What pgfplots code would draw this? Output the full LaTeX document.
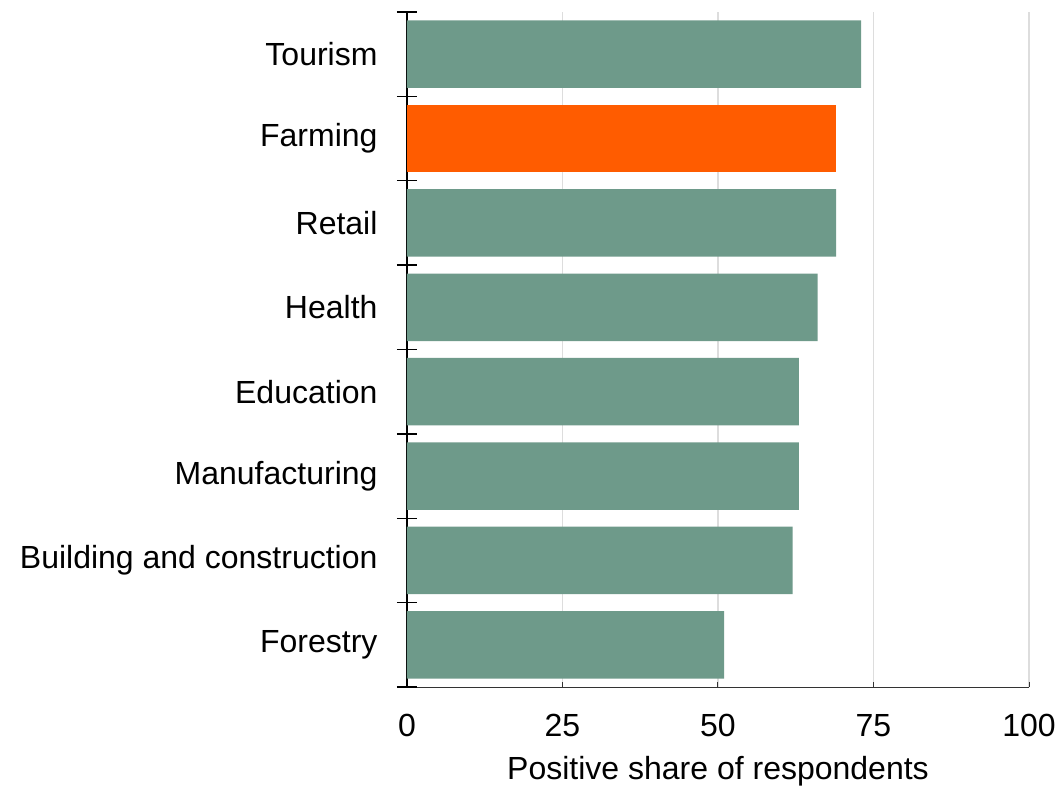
\documentclass[border=0pt]{standalone}
\usepackage{pgfplots}
\pgfplotsset{compat=1.18}
\usepackage{fontspec}
\setmainfont{Liberation Sans}
\definecolor{bargreen}{RGB}{110,154,138}
\definecolor{barorange}{RGB}{255,92,0}
\definecolor{gridgray}{RGB}{221,221,221}
\definecolor{axisgray}{RGB}{51,51,51}
\begin{document}
\begin{tikzpicture}
\begin{axis}[
  at={(0,0)}, anchor=south west,
  scale only axis, width=622bp, height=675bp,
  xmin=0, xmax=100, ymin=-0.5, ymax=7.5,
  xbar, bar width=0.8, bar shift=0,
  axis x line*=bottom, axis y line*=left,
  x axis line style={draw=axisgray, line width=1bp},
  y axis line style={draw=black, line width=1.3bp},
  xtick={0,25,50,75,100},
  xtick style={draw=axisgray, line width=1bp},
  tick align=inside, major tick length=5bp,
  ytick={0,...,7},
  yticklabels={Forestry, Building and construction, Manufacturing, Education, Health, Retail, Farming, Tourism},
  ytick style={draw=none},
  extra y ticks={-0.5,0.5,1.5,2.5,3.5,4.5,5.5,6.5,7.5},
  extra y tick labels={},
  extra y tick style={ytick style={draw=black, line width=1.3bp}, tick align=center, major tick length=20bp, ymajorgrids=false},
  xmajorgrids, grid style={gridgray, line width=1.5bp},
  /pgf/number format/assume math mode=true,
  tick label style={font=\fontsize{32bp}{38bp}\selectfont},
  label style={font=\fontsize{32bp}{38bp}\selectfont},
  yticklabel style={xshift=-26bp},
  xticklabel style={yshift=-24bp},
  xlabel={Positive share of respondents},
  xlabel style={yshift=-12bp},
]
\addplot[fill=bargreen, draw=none] coordinates {(51,0) (62,1) (63,2) (63,3) (66,4) (69,5) (73,7)};
\addplot[fill=barorange, draw=none] coordinates {(69,6)};
\end{axis}
\pgfresetboundingbox
\useasboundingbox (-407bp,-103bp) rectangle (654bp,687bp);
\end{tikzpicture}
\end{document}
